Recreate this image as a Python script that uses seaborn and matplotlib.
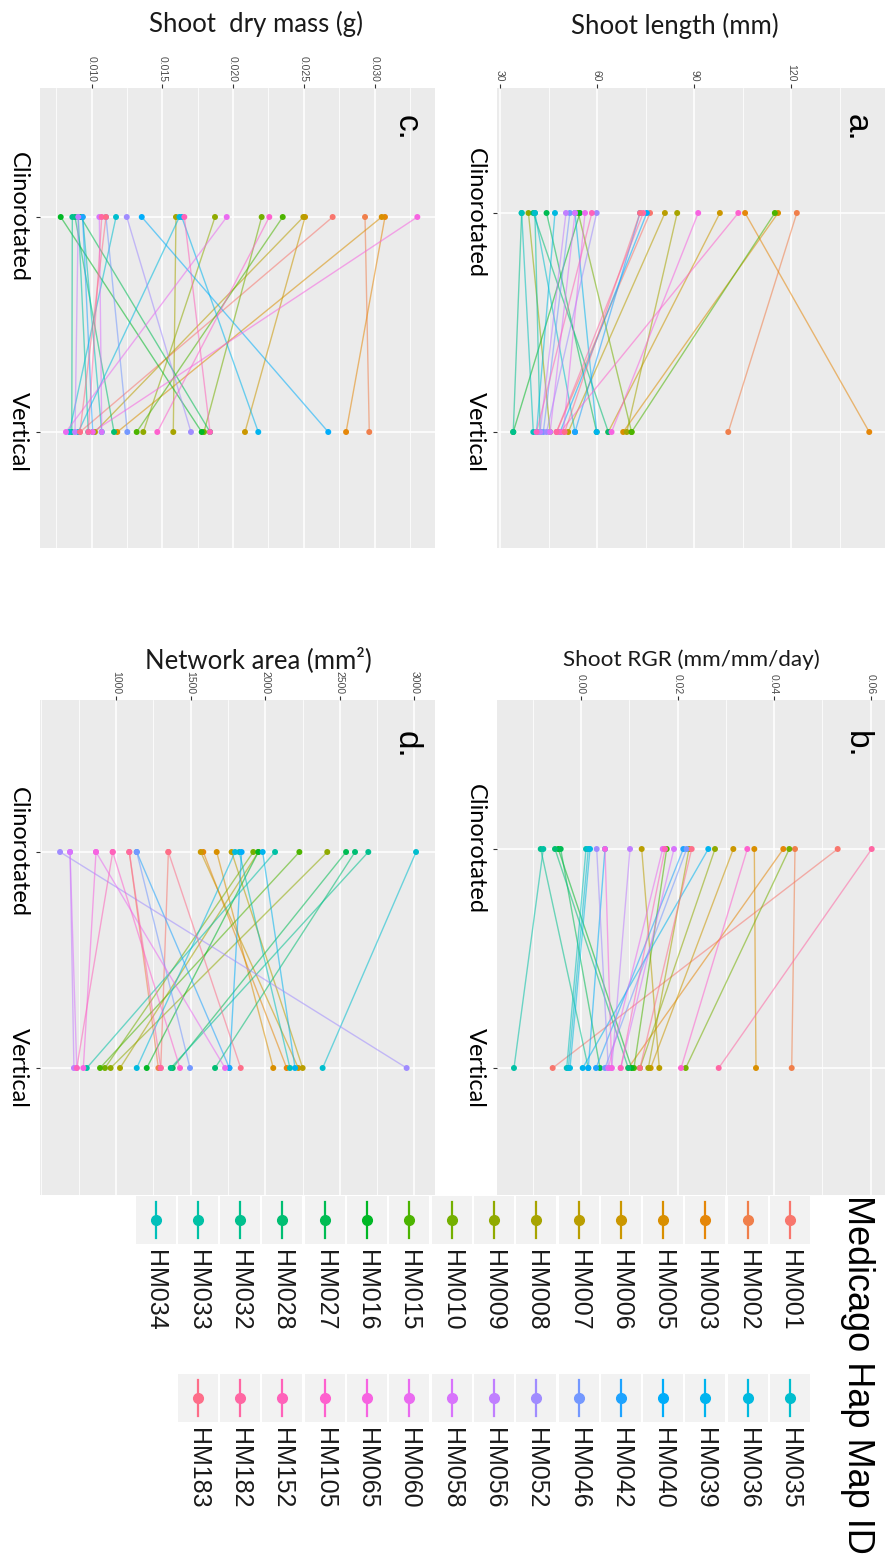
import numpy as np
import pandas as pd
import matplotlib
matplotlib.use("Agg")
import matplotlib.pyplot as plt
import seaborn as sns
from matplotlib.ticker import FixedLocator, MultipleLocator, FormatStrFormatter
from matplotlib.patches import Rectangle

# ---------------- data ----------------
ids = ["HM001", "HM002", "HM003", "HM005", "HM006", "HM007", "HM008", "HM009",
       "HM010", "HM015", "HM016", "HM027", "HM028", "HM032", "HM033", "HM034",
       "HM035", "HM036", "HM039", "HM040", "HM042", "HM046", "HM052", "HM056",
       "HM058", "HM060", "HM065", "HM105", "HM152", "HM182", "HM183"]
conditions = ["Clinorotated", "Vertical"]

length_clino = [76.4, 121.8, 105.8, 116, 98, 81, 84.8, 38.8, 54.2, 115, 54.7, 44.4,
                40.3, 36.7, 40.8, 36.7, 40.8, 47, 53.2, 75.4, 73.3, 51.6, 59.9, 50.4,
                53.2, 56.3, 91.3, 103.7, 58.4, 74.3, 73.3]
length_vert = [47.5, 100.6, 144.2, 68.1, 63.5, 51.1, 69.2, 45.5, 70.7, 70.7, 34.1, 59.9,
               63.5, 34.1, 42.4, 40.3, 53.2, 41.3, 59.9, 48.6, 53.2, 43.4, 44.4, 42.4,
               45.5, 49.6, 64.5, 48.6, 41.3, 47.5, 50.0]
length_ticks = [30, 60, 90, 120]

rgr_clino = [0.0532, 0.04435, 0.04193, 0.03592, 0.03157, 0.01258, 0.02238, 0.02777,
             0.04317, 0.01776, -0.0047, -0.00421, -0.00539, -0.00835, -0.00781, 0.00104,
             0.00151, 0.00187, 0.02638, 0.00497, 0.0212, 0.0219, 0.00325, 0.01016,
             0.01927, 0.01693, 0.00497, 0.03447, 0.01741, 0.06025, 0.02294]
rgr_vert = [-0.00587, 0.04367, 0.0098, 0.03627, 0.01444, 0.01623, 0.01395, 0.01223,
            0.0217, 0.01098, 0.0105, 0.00394, 0.0098, 0.00151, -0.01389, -0.00296,
            -0.00262, -0.00228, 0.00035, 0.00151, 0.00311, 0.00497, 0.00566, 0.00636,
            0.00823, 0.00566, 0.00636, 0.02073, 0.00823, 0.02854, 0.01223]
rgr_ticks = [0.00, 0.02, 0.04, 0.06]

mass_clino = [0.02704, 0.02933, 0.03074, 0.03051, 0.02509, 0.02497, 0.01596, 0.01872,
              0.02202, 0.02351, 0.00781, 0.00922, 0.00882, 0.00863, 0.00905, 0.00936,
              0.01172, 0.0162, 0.01637, 0.01354, 0.00936, 0.01101, 0.01248, 0.00905,
              0.01054, 0.01955, 0.03303, 0.02256, 0.01655, 0.01071, 0.01101]
mass_vert = [0.00917, 0.02963, 0.02799, 0.01181, 0.02084, 0.01023, 0.01577, 0.01365,
             0.01794, 0.01318, 0.01778, 0.01837, 0.01158, 0.00859, 0.00976, 0.01071,
             0.00842, 0.00905, 0.02178, 0.02673, 0.01007, 0.01252, 0.01702, 0.00882,
             0.01071, 0.00818, 0.01007, 0.01464, 0.01837, 0.00976, 0.00917]
mass_ticks = [0.010, 0.015, 0.020, 0.025, 0.030]

area_clino = [1351, 1089, 1585, 1675, 1568, 1775, 1954, 2416, 1920, 2229, 1954, 2542,
              2602, 2691, 2066, 1826, 3011, 1798, 1983, 1842, 1139, 1139, 625, 692,
              692, 866, 866, 978, 978, 1089, 1351]
area_vert = [1300, 1284, 2144, 2054, 2222, 2251, 1027, 964, 926, 893, 1206, 1380,
             1664, 1367, 804, 2166, 2385, 1139, 2200, 1760, 1760, 1496, 2948, 718,
             737, 1731, 781, 1429, 737, 1300, 1836]
area_ticks = [1000, 1500, 2000, 2500, 3000]

legend_title = "Medicago Hap Map ID"


# ---------------- ggplot-like hue palette ----------------
def hcl_to_hex(h, c, l):
    hr = np.deg2rad(h)
    U, V = c * np.cos(hr), c * np.sin(hr)
    Xn, Yn, Zn = 95.047, 100.0, 108.883
    un = 4 * Xn / (Xn + 15 * Yn + 3 * Zn)
    vn = 9 * Yn / (Xn + 15 * Yn + 3 * Zn)
    Y = Yn * ((l + 16) / 116) ** 3 if l > 8 else Yn * l / 903.3
    u = U / (13 * l) + un
    v = V / (13 * l) + vn
    X = 9.0 * Y * u / (4 * v)
    Z = -X / 3 - 5 * Y + 3 * Y / v
    xyz = np.array([X, Y, Z]) / 100.0
    M = np.array([[3.2404542, -1.5371385, -0.4985314],
                  [-0.9692660, 1.8760108, 0.0415560],
                  [0.0556434, -0.2040259, 1.0572252]])
    rgb = M @ xyz
    rgb = np.where(rgb <= 0.0031308, 12.92 * rgb,
                   1.055 * np.power(np.clip(rgb, 0, None), 1 / 2.4) - 0.055)
    rgb = np.clip(rgb, 0, 1)
    return "#%02x%02x%02x" % tuple(int(round(x * 255)) for x in rgb)


n = len(ids)
hues = np.linspace(15, 375, n + 1)[:-1]
palette = [hcl_to_hex(h % 360, 100, 65) for h in hues]
pal = dict(zip(ids, palette))

# ---------------- figure ----------------
W, H = 891, 1568
fig = plt.figure(figsize=(W / 100, H / 100), dpi=100)
fig.patch.set_facecolor("white")

TICK_FONT = ["Liberation Sans", "DejaVu Sans"]
LAB_FONT = ["Lato", "DejaVu Sans"]


def rect(x0, x1, y0, y1):
    return [x0 / W, 1 - y1 / H, (x1 - x0) / W, (y1 - y0) / H]


def pix_to_val(px, ref_px, ref_val, px_per_step, step):
    return ref_val + (px - ref_px) * step / px_per_step


def panel(box, cat_px, clino, vert, ref, ticks, minor, fmt, title, title_xy, title_size,
          letter, letter_xy):
    x0, x1, y0, y1 = box
    ax = fig.add_axes(rect(x0, x1, y0, y1))
    ax.set_facecolor("#EBEBEB")
    df = pd.DataFrame({
        "id": ids + ids,
        "condition": [conditions[0]] * n + [conditions[1]] * n,
        "value": list(clino) + list(vert),
    })
    sns.pointplot(data=df, x="value", y="condition", hue="id", hue_order=ids,
                  order=conditions, palette=pal, orient="h", errorbar=None,
                  markersize=0, linewidth=1.0, alpha=0.55, legend=False, ax=ax)
    sns.stripplot(data=df, x="value", y="condition", hue="id", hue_order=ids,
                  order=conditions, palette=pal, orient="h", jitter=False,
                  size=4.3, linewidth=0, legend=False, ax=ax, zorder=4)
    rp, rv, pps, st = ref
    ax.set_xlim(pix_to_val(x0, rp, rv, pps, st), pix_to_val(x1, rp, rv, pps, st))
    c, v = cat_px
    s = v - c
    ax.set_ylim((y1 - c) / s, (y0 - c) / s)
    ax.xaxis.set_major_locator(FixedLocator(ticks))
    ax.xaxis.set_minor_locator(MultipleLocator(minor))
    ax.xaxis.set_major_formatter(FormatStrFormatter(fmt))
    ax.set_yticks([0, 1])
    ax.set_axisbelow(True)
    ax.grid(True, which="major", color="white", linewidth=1.1)
    ax.grid(True, which="minor", axis="x", color="white", linewidth=0.55)
    for sp in ax.spines.values():
        sp.set_visible(False)
    ax.xaxis.tick_top()
    ax.tick_params(axis="x", which="major", top=True, bottom=False, labeltop=True,
                   labelbottom=False, length=3, width=0.8, color="#333333",
                   labelsize=7.5, labelcolor="#4D4D4D", pad=1.5, labelrotation=270)
    ax.tick_params(axis="x", which="minor", length=0)
    ax.tick_params(axis="y", length=3, width=0.8, color="#333333", pad=5)
    for lab in ax.get_xticklabels():
        lab.set_family(TICK_FONT)
    ax.set_yticklabels(conditions, rotation=270, fontsize=17, family=LAB_FONT,
                       color="black", va="center", ha="right")
    ax.set_xlabel("")
    ax.set_ylabel("")
    fig.text(title_xy[0] / W, 1 - title_xy[1] / H, title, ha="center", va="center",
             fontsize=title_size, family=LAB_FONT, color="#1a1a1a")
    fig.text(letter_xy[0] / W, 1 - letter_xy[1] / H, letter, ha="center", va="center",
             rotation=270, fontsize=24, family=TICK_FONT, color="black")
    return ax


# a. shoot length
panel((497, 885, 88, 548), (213, 432), length_clino, length_vert,
      (500, 30, 97, 30), length_ticks, 15, "%d", "Shoot length (mm)", (675, 26), 18.5,
      "a.", (856, 128))
# c. shoot dry mass
panel((40, 435, 88, 548), (217, 432), mass_clino, mass_vert,
      (91.7, 0.010, 70.7, 0.005), mass_ticks, 0.0025, "%.3f", "Shoot  dry mass (g)",
      (256, 24), 18.5, "c.", (406, 128))
# b. shoot RGR
panel((497, 885, 700, 1195), (849, 1068), rgr_clino, rgr_vert,
      (581, 0.0, 96.5, 0.02), rgr_ticks, 0.01, "%.2f", "Shoot RGR (mm/mm/day)",
      (691, 660), 16.2, "b.", (856, 745))
# d. network area
panel((40, 435, 700, 1195), (852, 1068), area_clino, area_vert,
      (116, 1000, 74.6, 500), area_ticks, 250, "%d", "Network area (mm\u00b2)",
      (258, 660), 18.5, "d.", (406, 745))

# ---------------- legend (rotated layout) ----------------
lax = fig.add_axes([0, 0, 1, 1])
lax.set_xlim(0, W)
lax.set_ylim(H, 0)
lax.axis("off")
lax.patch.set_alpha(0)

lax.text(857, 1195, legend_title, rotation=270, ha="center", va="top",
         fontsize=26, family=TICK_FONT, color="black")

cols = [ids[:16], ids[16:]]
col_key_y = [1220, 1398]
col_lab_y = [1250, 1428]
step = 42.3
for ci, col in enumerate(cols):
    for i, name in enumerate(col):
        xc = 790 - i * step
        yc = col_key_y[ci]
        lax.add_patch(Rectangle((xc - 20, yc - 24), 40, 48, facecolor="#F2F2F2",
                                edgecolor="none", zorder=1))
        lax.plot([xc, xc], [yc - 18, yc + 18], color=pal[name], lw=1.6, zorder=2)
        lax.plot([xc], [yc], marker="o", ms=7, color=pal[name], zorder=3)
        lax.text(xc, col_lab_y[ci], name, rotation=270, ha="center", va="top",
                 fontsize=18, family=TICK_FONT, color="#1a1a1a")

fig.savefig("out.png", dpi=100, facecolor="white")
